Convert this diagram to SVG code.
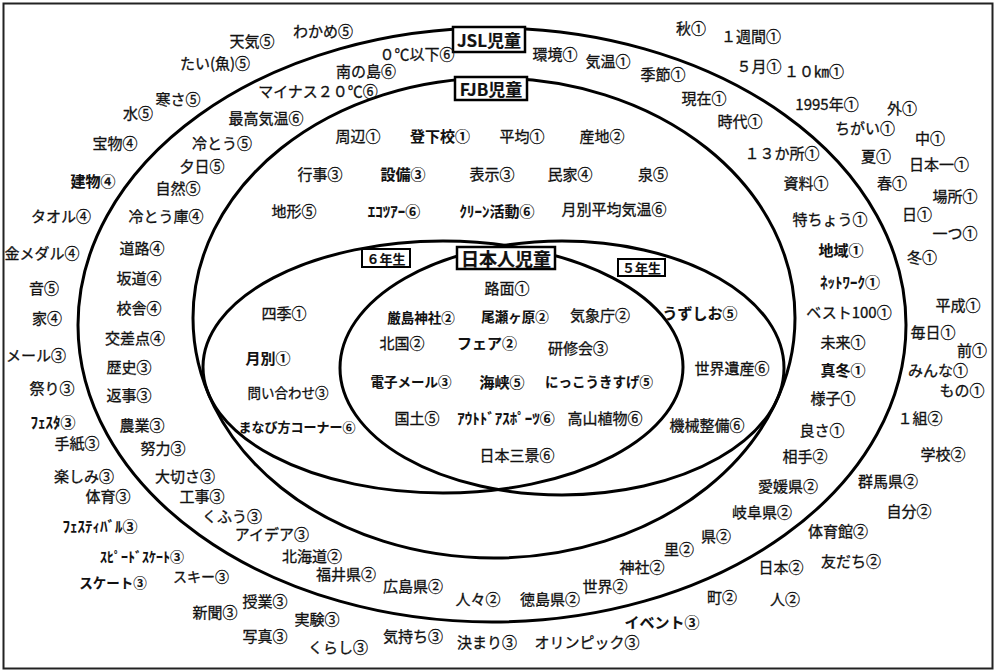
<svg xmlns="http://www.w3.org/2000/svg" width="1000" height="672" viewBox="0 0 1000 672">
<style>
text{font-family:"Noto Sans CJK JP","Noto Sans CJK SC",sans-serif;font-size:15px;fill:#111;stroke:#111;stroke-width:0.3px;text-anchor:middle;dominant-baseline:central}
.b{font-weight:bold;stroke-width:0.1px}
.s{font-size:13.5px}
.e{fill:none;stroke:#000;stroke-width:3}
.lb{fill:#fff;stroke:#000;stroke-width:2.5}
.lt{font-weight:bold;font-size:17px;stroke-width:0.2px}
.gb{fill:#fff;stroke:#000;stroke-width:2}
.gt{font-weight:bold;font-size:13px;stroke-width:0.1px}
</style>
<rect x="0" y="0" width="1000" height="672" fill="#fff"/>
<rect x="3.5" y="3.5" width="989" height="665" fill="#fff" stroke="#222" stroke-width="2"/>
<g id="sets">
<ellipse id="jsl" class="e" cx="492" cy="325" rx="414" ry="297"/>
<ellipse id="fjb" class="e" cx="494" cy="318" rx="301" ry="240"/>
<ellipse id="g6" class="e" cx="443" cy="367" rx="240" ry="126"/>
<ellipse id="g5" class="e" cx="562" cy="368" rx="222" ry="127"/>
</g>
<g id="label-jsl"><rect class="lb" x="453" y="27" width="72" height="25"/><text class="lt" x="489" y="39.5">JSL児童</text></g>
<g id="label-fjb"><rect class="lb" x="455" y="77" width="72" height="23"/><text class="lt" x="491" y="88.5">FJB児童</text></g>
<g id="label-jp"><rect class="lb" x="457" y="247" width="98" height="22"/><text class="lt" x="506" y="258" style="font-size:18px">日本人児童</text></g>
<g id="label-6"><rect class="gb" x="362" y="249" width="48" height="18"/><text class="gt" x="386" y="258">６年生</text></g>
<g id="label-5"><rect class="gb" x="618" y="259" width="47" height="17"/><text class="gt" x="641.5" y="267.5">５年生</text></g>
<g id="outside">
<text x="252" y="40">天気⑤</text>
<text x="323" y="30">わかめ⑤</text>
<text x="215" y="62">たい(魚)⑤</text>
<text x="178" y="98">寒さ⑤</text>
<text x="138" y="112">水⑤</text>
<text x="115" y="142">宝物④</text>
<text class="b" x="93" y="180">建物④</text>
<text x="61" y="215">タオル④</text>
<text x="42" y="252">金メダル④</text>
<text x="44" y="287">音⑤</text>
<text x="47" y="317">家④</text>
<text x="36" y="354">メール③</text>
<text x="52" y="387">祭り③</text>
<text class="b" x="53" y="421">ﾌｪｽﾀ③</text>
<text x="77" y="442">手紙③</text>
<text x="84" y="475">楽しみ③</text>
<text x="108" y="495">体育③</text>
<text class="b" x="100" y="525">ﾌｪｽﾃｨﾊﾞﾙ③</text>
<text class="b" x="142" y="556" style="font-size:14px">ｽﾋﾟｰﾄﾞｽｹｰﾄ③</text>
<text x="201" y="576" style="font-size:14px">スキー③</text>
<text class="b s" x="113" y="582">スケート③</text>
<text x="215" y="611">新聞③</text>
<text x="265" y="600">授業③</text>
<text x="265" y="635">写真③</text>
<text x="317" y="618">実験③</text>
<text x="338" y="646">くらし③</text>
<text x="413" y="635">気持ち③</text>
<text x="487" y="641">決まり③</text>
<text x="587" y="641">オリンピック③</text>
<text class="b" x="662" y="621">イベント③</text>
<text x="722" y="596">町②</text>
<text x="785" y="598">人②</text>
<text x="781" y="566">日本②</text>
<text x="851" y="560">友だち②</text>
<text x="838" y="530">体育館②</text>
<text x="909" y="510">自分②</text>
<text x="888" y="480">群馬県②</text>
<text x="943" y="453">学校②</text>
<text x="920" y="417">１組②</text>
<text x="962" y="389">もの①</text>
<text x="938" y="369">みんな①</text>
<text x="972" y="349">前①</text>
<text x="933" y="331">毎日①</text>
<text x="958" y="304">平成①</text>
<text x="922" y="256">冬①</text>
<text x="955" y="232">一つ①</text>
<text x="917" y="213">日①</text>
<text x="955" y="195">場所①</text>
<text x="892" y="182">春①</text>
<text x="939" y="163">日本一①</text>
<text x="876" y="155">夏①</text>
<text x="930" y="137">中①</text>
<text x="865" y="127">ちがい①</text>
<text x="902" y="107">外①</text>
<text x="827" y="103">1995年①</text>
<text x="814" y="70">１０㎞①</text>
<text x="759" y="65">５月①</text>
<text x="751" y="35">１週間①</text>
<text x="691" y="27">秋①</text>
</g>
<g id="jsl-only">
<text x="417" y="53">０℃以下⑥</text>
<text x="366" y="70">南の島⑥</text>
<text x="318" y="90">マイナス２０℃⑥</text>
<text x="266" y="117">最高気温⑥</text>
<text x="222" y="142">冷とう⑤</text>
<text x="202" y="165">夕日⑤</text>
<text x="178" y="187">自然⑤</text>
<text x="166" y="215">冷とう庫④</text>
<text x="142" y="247">道路④</text>
<text x="139" y="277">坂道④</text>
<text x="139" y="307">校舎④</text>
<text x="135" y="337">交差点④</text>
<text x="129" y="366">歴史③</text>
<text x="129" y="394">返事③</text>
<text x="142" y="424">農業③</text>
<text x="163" y="447">努力③</text>
<text x="185" y="475">大切さ③</text>
<text x="202" y="495">工事③</text>
<text x="232" y="515">くふう③</text>
<text x="272" y="533">アイデア③</text>
<text x="312" y="555">北海道②</text>
<text x="346" y="573">福井県②</text>
<text x="413" y="585">広島県②</text>
<text x="478" y="598">人々②</text>
<text x="550" y="598">徳島県②</text>
<text x="605" y="585">世界②</text>
<text x="642" y="566">神社②</text>
<text x="679" y="548">里②</text>
<text x="716" y="535">県②</text>
<text x="762" y="511">岐阜県②</text>
<text x="788" y="485">愛媛県②</text>
<text x="805" y="455">相手②</text>
<text x="822" y="429">良さ①</text>
<text x="833" y="397">様子①</text>
<text class="b" x="843" y="369">真冬①</text>
<text x="843" y="341">未来①</text>
<text x="849" y="311">ベスト100①</text>
<text class="b" x="850" y="281">ﾈｯﾄﾜｰｸ①</text>
<text class="b" x="841" y="249">地域①</text>
<text x="830" y="218">特ちょう①</text>
<text x="806" y="182">資料①</text>
<text x="782" y="152">１３か所①</text>
<text x="740" y="120">時代①</text>
<text x="704" y="97">現在①</text>
<text x="663" y="73">季節①</text>
<text x="608" y="60">気温①</text>
<text x="555" y="53">環境①</text>
</g>
<g id="fjb-only">
<text x="358" y="135">周辺①</text>
<text class="b" x="440" y="135">登下校①</text>
<text x="522" y="135">平均①</text>
<text x="602" y="135">産地②</text>
<text x="320" y="173">行事③</text>
<text class="b" x="403" y="173">設備③</text>
<text x="492" y="173">表示③</text>
<text x="570" y="173">民家④</text>
<text x="653" y="173">泉⑤</text>
<text x="294" y="210">地形⑤</text>
<text class="b" x="394" y="210">ｴｺﾂｱｰ⑥</text>
<text class="b" x="497" y="210">ｸﾘｰﾝ活動⑥</text>
<text x="614" y="208">月別平均気温⑥</text>
</g>
<g id="grade6-only">
<text x="284" y="312">四季①</text>
<text class="b" x="268" y="357">月別①</text>
<text class="s" x="288" y="392">問い合わせ③</text>
<text class="b" x="297" y="426" style="font-size:13px">まなび方コーナー⑥</text>
</g>
<g id="japanese">
<text x="507" y="287">路面①</text>
<text class="b s" x="421" y="317">厳島神社②</text>
<text class="b s" x="515" y="316">尾瀬ヶ原②</text>
<text x="600" y="314">気象庁②</text>
<text x="402" y="342">北国②</text>
<text class="b" x="487" y="342">フェア②</text>
<text x="578" y="347">研修会③</text>
<text class="b s" x="411" y="381">電子メール③</text>
<text class="b" x="502" y="381">海峡⑤</text>
<text class="b s" x="599" y="381">にっこうきすげ⑤</text>
<text x="417" y="417">国土⑤</text>
<text class="b" x="506" y="417">ｱｳﾄﾄﾞｱｽﾎﾟｰﾂ⑥</text>
<text x="605" y="417">高山植物⑥</text>
<text x="517" y="454">日本三景⑥</text>
</g>
<g id="grade5-only">
<text class="b" x="700" y="312">うずしお⑤</text>
<text x="732" y="367">世界遺産⑥</text>
<text x="707" y="424">機械整備⑥</text>
</g>
</svg>
